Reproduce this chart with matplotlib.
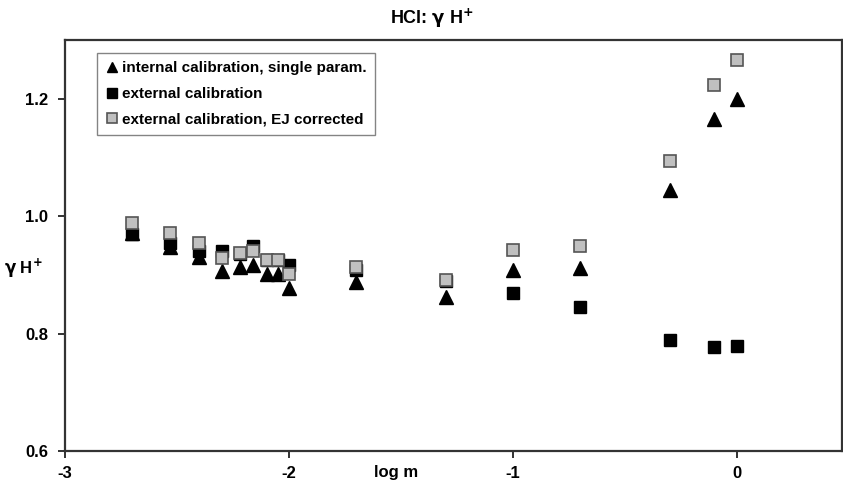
import matplotlib.pyplot as plt

plt.rcParams['font.family'] = ['Liberation Sans', 'DejaVu Sans']
plt.rcParams['font.weight'] = 'bold'

# log m values
x_int = [-2.70, -2.53, -2.40, -2.30, -2.22, -2.16, -2.10, -2.05, -2.00, -1.70, -1.30, -1.00, -0.70, -0.30, -0.10, 0.00]
# internal calibration, single param.
y_int = [0.972, 0.948, 0.931, 0.906, 0.914, 0.916, 0.902, 0.902, 0.877, 0.887, 0.862, 0.908, 0.911, 1.044, 1.166, 1.200]
# external calibration
y_ext = [0.970, 0.955, 0.940, 0.940, 0.935, 0.950, 0.925, 0.925, 0.916, 0.908, 0.890, 0.869, 0.845, 0.789, 0.777, 0.778]
# external calibration, EJ corrected
y_ej = [0.989, 0.972, 0.955, 0.928, 0.938, 0.940, 0.925, 0.925, 0.902, 0.914, 0.892, 0.942, 0.950, 1.094, 1.224, 1.266]

fig = plt.figure(figsize=(8.43, 4.9), dpi=100)
ax = fig.add_axes([65/843, 1 - 451/490, 777/843, 411/490])

ax.plot(x_int, y_int, linestyle='none', marker='^', markersize=9.5, color='black',
        label='internal calibration, single param.')
ax.plot(x_int, y_ext, linestyle='none', marker='s', markersize=8.5, color='black',
        label='external calibration')
ax.plot(x_int, y_ej, linestyle='none', marker='s', markersize=8.5, markerfacecolor='#c0c0c0',
        markeredgecolor='#555555', markeredgewidth=1.2,
        label='external calibration, EJ corrected')

ax.set_xlim(-3, 0.47)
ax.set_ylim(0.6, 1.3)
ax.set_xticks([-3, -2, -1, 0])
ax.set_xticklabels(['-3', '-2', '-1', '0'])
ax.set_yticks([0.6, 0.8, 1.0, 1.2])
ax.set_yticklabels(['0.6', '0.8', '1.0', '1.2'])
ax.tick_params(axis='both', direction='out', length=5, width=1.3, colors='#222222',
               labelsize=12, labelcolor='black')
ax.tick_params(axis='x', pad=6)
ax.tick_params(axis='y', pad=7)
for s in ax.spines.values():
    s.set_color('#333333')
    s.set_linewidth(1.6)

# x label sits in the tick label row
ax.text(-1.52, -0.035, 'log m', transform=ax.get_xaxis_transform(),
        ha='center', va='top', fontsize=12, fontweight='bold')
fig.text(23/843, 1 - 268/490, r'$\mathbf{\gamma}$ H$^{+}$', ha='center', va='center',
         fontsize=12, fontweight='bold')
fig.text(432/843, 1 - 18/490, r'HCl: $\mathbf{\gamma}$ H$^{+}$', ha='center', va='center',
         fontsize=13, fontweight='bold')

leg = ax.legend(loc='upper left', bbox_to_anchor=(32/777, 1 - 13/411), frameon=True,
                fancybox=False, edgecolor='#666666', fontsize=11, handlelength=0.8,
                handletextpad=0.3, labelspacing=0.75, borderpad=0.55, borderaxespad=0,
                markerscale=0.8)
leg.get_frame().set_linewidth(1.0)
for t in leg.get_texts():
    t.set_fontweight('bold')

fig.savefig('out.png', dpi=100)
